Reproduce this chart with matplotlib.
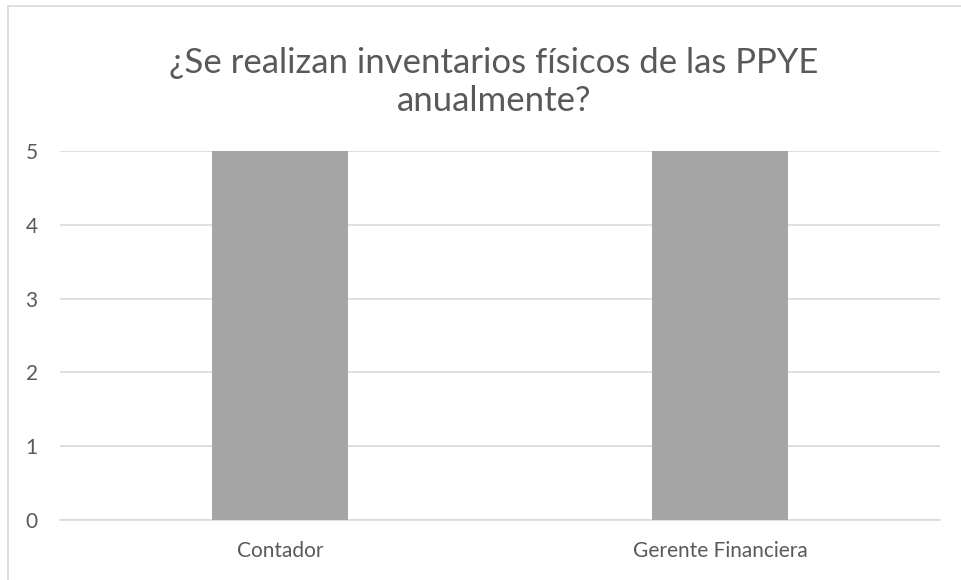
import matplotlib.pyplot as plt
from matplotlib.patches import Rectangle

categorias = ['Contador', 'Gerente Financiera']
valores = [5, 5]
yticks = [0, 1, 2, 3, 4, 5]
titulo = '¿Se realizan inventarios físicos de las PPYE\nanualmente?'

W, H = 961, 580
fig = plt.figure(figsize=(W / 100, H / 100), dpi=100)
plt.rcParams['font.family'] = ['Lato', 'DejaVu Sans']

# borde del area del grafico (solo se ven arriba e izquierda)
fig.patches.append(Rectangle((8 / W, -0.1), 1.2, 1.1 - 6 / H, transform=fig.transFigure,
                             fill=False, edgecolor='#D9D9D9', linewidth=1.2))

ax = fig.add_axes([60 / W, (H - 520) / H, 880 / W, 369 / H])
x = range(len(categorias))
ax.bar(x, valores, width=0.31, color='#A5A5A5', zorder=3)
ax.set_xlim(-0.5, 1.5)
ax.set_ylim(0, 5)
ax.set_yticks(yticks)
ax.set_xticks(list(x))
ax.set_xticklabels(categorias)
ax.grid(axis='y', color='#D9D9D9', linewidth=1.2, zorder=0)
for s in ['top', 'right', 'left']:
    ax.spines[s].set_visible(False)
ax.spines['bottom'].set_color('#D9D9D9')
ax.spines['bottom'].set_linewidth(1.2)
ax.tick_params(length=0, labelsize=15, labelcolor='#595959')
ax.tick_params(axis='y', pad=16)
ax.tick_params(axis='x', pad=15)

# el titulo va centrado en el area del grafico, que sigue mas alla del borde derecho
fig.text(494 / W, 1 - 82 / H, titulo, ha='center', va='center', fontsize=25,
         color='#595959', linespacing=1.2)

fig.savefig('out.png', dpi=100)
